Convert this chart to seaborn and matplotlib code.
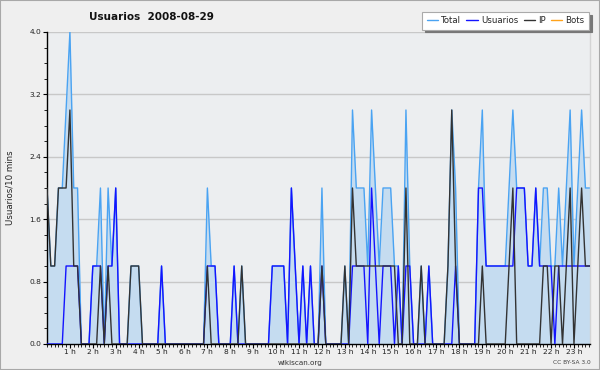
import numpy as np
import pandas as pd
import matplotlib
matplotlib.use("Agg")
import matplotlib.pyplot as plt
import matplotlib.transforms as mtrans
from matplotlib.patches import Rectangle
from matplotlib.lines import Line2D
import seaborn as sns

# ---- data (10-minute slots, 00:00 .. 23:50) ----
usuarios = [0, 0, 0, 0, 0, 1, 1, 1, 1, 0, 0, 0, 1, 1, 1, 0, 1, 1, 2, 0,
            0, 0, 0, 0, 0, 0, 0, 0, 0, 0, 1, 0, 0, 0, 0, 0, 0, 0, 0, 0,
            0, 0, 1, 1, 1, 0, 0, 0, 0, 1, 0, 0, 0, 0, 0, 0, 0, 0, 0, 1,
            1, 1, 1, 0, 2, 1, 0, 1, 0, 1, 0, 0, 1, 0, 0, 0, 0, 0, 0, 0,
            1, 1, 1, 1, 0, 2, 1, 0, 1, 1, 1, 0, 1, 0, 1, 1, 0, 0, 0, 0,
            1, 0, 0, 0, 0, 0, 0, 1, 0, 0, 0, 0, 0, 2, 2, 1, 1, 1, 1, 1,
            1, 1, 1, 2, 2, 2, 1, 1, 2, 1, 1, 1, 1, 0, 1, 1, 1, 1, 1, 1,
            1, 1, 1, 1]
ip = [2, 1, 1, 2, 2, 2, 3, 1, 1, 0, 0, 0, 0, 0, 1, 0, 1, 0, 0, 0,
      0, 0, 1, 1, 1, 0, 0, 0, 0, 0, 0, 0, 0, 0, 0, 0, 0, 0, 0, 0,
      0, 0, 1, 0, 0, 0, 0, 0, 0, 0, 0, 1, 0, 0, 0, 0, 0, 0, 0, 0,
      0, 0, 0, 0, 0, 0, 0, 0, 0, 0, 0, 0, 1, 0, 0, 0, 0, 0, 1, 0,
      2, 1, 1, 1, 1, 1, 1, 1, 1, 1, 1, 1, 0, 0, 2, 0, 0, 0, 1, 0,
      0, 0, 0, 0, 0, 1, 3, 1, 0, 0, 0, 0, 0, 0, 1, 0, 0, 0, 0, 0,
      0, 1, 2, 0, 0, 0, 0, 0, 0, 0, 1, 1, 0, 1, 1, 0, 1, 2, 0, 1,
      2, 1, 1, 1]
total = [2, 1, 1, 2, 2, 3, 4, 2, 2, 0, 0, 0, 1, 1, 2, 0, 2, 1, 2, 0,
         0, 0, 1, 1, 1, 0, 0, 0, 0, 0, 1, 0, 0, 0, 0, 0, 0, 0, 0, 0,
         0, 0, 2, 1, 1, 0, 0, 0, 0, 1, 0, 1, 0, 0, 0, 0, 0, 0, 0, 1,
         1, 1, 1, 0, 2, 1, 0, 1, 0, 1, 0, 0, 2, 0, 0, 0, 0, 0, 1, 0,
         3, 2, 2, 2, 1, 3, 2, 1, 2, 2, 2, 1, 1, 0, 3, 1, 0, 0, 1, 0,
         1, 0, 0, 0, 0, 1, 3, 2, 0, 0, 0, 0, 0, 2, 3, 1, 1, 1, 1, 1,
         1, 2, 3, 2, 2, 2, 1, 1, 2, 1, 2, 2, 1, 1, 2, 1, 2, 3, 1, 2,
         3, 2, 2, 2]
hour_labels = ["1 h", "2 h", "3 h", "4 h", "5 h", "6 h", "7 h", "8 h", "9 h",
               "10 h", "11 h", "12 h", "13 h", "14 h", "15 h", "16 h", "17 h",
               "18 h", "19 h", "20 h", "21 h", "22 h", "23 h"]
y_ticks = [0.0, 0.8, 1.6, 2.4, 3.2, 4.0]
series_names = ["Total", "Usuarios", "IP", "Bots"]
series_colors = ["#4aa3f2", "#1414ff", "#333333", "#ffa31a"]

sns.set_theme(style="white")
plt.rcParams["font.family"] = ["DejaVu Sans"]

W, H = 600, 370
fig = plt.figure(figsize=(W / 100, H / 100), dpi=100, facecolor="#efefef")
ax = fig.add_axes([47 / W, 1 - 344 / H, 543 / W, 312 / H])
ax.set_facecolor("#eceef0")

df = pd.DataFrame({"slot": np.arange(len(total)), "Total": total,
                   "Usuarios": usuarios, "IP": ip})

ax.fill_between(df["slot"], df["Total"], 0, color="#c5dcf0", lw=0, zorder=1)
sns.lineplot(data=df, x="slot", y="Total", color=series_colors[0], lw=1.0, ax=ax, zorder=2)
sns.lineplot(data=df, x="slot", y="Usuarios", color=series_colors[1], lw=1.0, ax=ax, zorder=3)
sns.lineplot(data=df, x="slot", y="IP", color=series_colors[2], lw=1.0, ax=ax, zorder=4)

ax.set_xlim(0, 142.2)
ax.set_ylim(0, 4.0)

# y axis
ax.set_yticks(y_ticks)
ax.set_yticklabels([f"{v:.1f}" for v in y_ticks])
ax.set_yticks(np.arange(0, 4.01, 0.2), minor=True)
ax.yaxis.grid(True, which="major", color="#c8c8c8", lw=1.0, zorder=0)
ax.set_axisbelow(True)

# x axis
hour_pos = [6 * (k + 1) for k in range(len(hour_labels))]
ax.set_xticks(hour_pos)
ax.set_xticklabels(hour_labels)
ax.set_xticks(np.arange(0, 143, 1), minor=True)
offset = mtrans.ScaledTranslation(-4 / 100, 0, fig.dpi_scale_trans)
for lbl in ax.get_xticklabels():
    lbl.set_transform(lbl.get_transform() + offset)

ax.tick_params(axis="both", which="major", direction="out", length=3, width=0.8,
               color="black", labelsize=5.4, pad=1.0, labelcolor="#222222")
ax.tick_params(axis="x", which="major", pad=0.5)
ax.tick_params(axis="both", which="minor", direction="out", length=2, width=0.6,
               color="black")
ax.tick_params(axis="x", which="both", bottom=True)
ax.tick_params(axis="y", which="both", left=True)

ax.set_xlabel("")
ax.set_ylabel("")
for s in ["left", "bottom"]:
    ax.spines[s].set_color("black")
    ax.spines[s].set_linewidth(1.0)
ax.spines["top"].set_visible(False)
ax.spines["right"].set_color("#d4d4d4")
ax.spines["right"].set_linewidth(1.0)

# texts
fig.text(151 / W, 1 - 17 / H, "Usuarios  2008-08-29", fontsize=7.5, fontweight="bold",
         ha="center", va="center", color="#111111")
fig.text(10 / W, 1 - 188 / H, "Usuarios/10 mins", fontsize=6.2, rotation=90,
         ha="center", va="center", color="#222222")
fig.text(300 / W, 1 - 363 / H, "wikiscan.org", fontsize=5.2, ha="center", va="center",
         color="#333333")
fig.text(572 / W, 1 - 363 / H, "CC BY-SA 3.0", fontsize=4.2, ha="center", va="center",
         color="#444444")

# legend
handles = [Line2D([0], [0], color=c, lw=1.0) for c in series_colors]
leg = fig.legend(handles, series_names, ncol=4, loc="upper right",
                 bbox_to_anchor=(589 / W, 1 - 12 / H), fontsize=6.2, frameon=True,
                 fancybox=False, shadow={"color": "#777777", "alpha": 1.0}, handlelength=1.3,
                 handletextpad=0.4, columnspacing=0.6, borderpad=0.5,
                 borderaxespad=0.0)
leg.get_frame().set_facecolor("white")
leg.get_frame().set_edgecolor("#aaaaaa")
leg.get_frame().set_linewidth(0.8)

fig.patches.append(Rectangle((0, 0), 1, 1, transform=fig.transFigure, fill=False,
                             edgecolor="#a8a8a8", lw=1.5))

fig.savefig("out.png", dpi=100, facecolor=fig.get_facecolor())
